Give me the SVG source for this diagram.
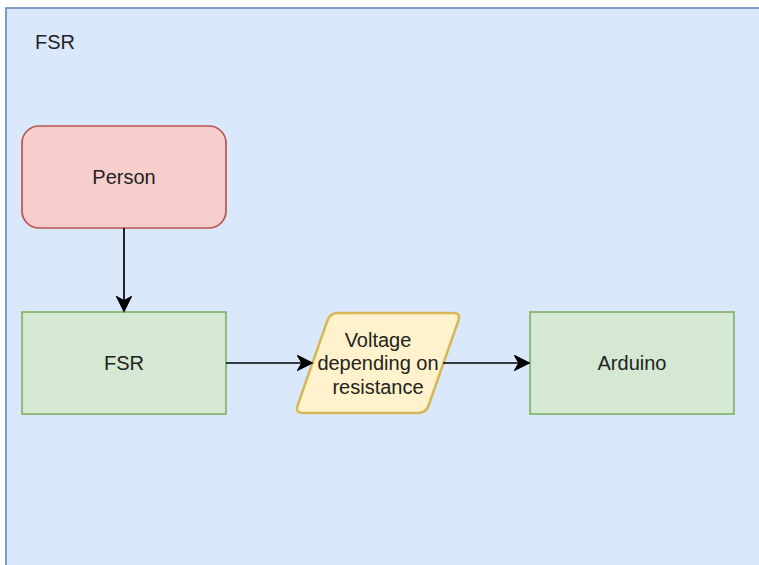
<svg xmlns="http://www.w3.org/2000/svg" width="759" height="565" viewBox="0 0 759 565">
<style>
  text { font-family: "Liberation Sans", Arial, sans-serif; font-size: 20px; fill: #222; text-anchor: middle; }
  .green { fill: #d5e8d4; stroke: #82b366; stroke-width: 1.7; }
  .edge { fill: none; stroke: #000; stroke-width: 1.7; }
</style>
<defs>
  <marker id="arrow" markerUnits="userSpaceOnUse" markerWidth="18" markerHeight="18" refX="15" refY="8" orient="auto">
    <path d="M1,1 L15,8 L1,15 L5,8 Z" fill="#000" stroke="#000" stroke-width="1.5" stroke-linejoin="miter"/>
  </marker>
</defs>
<g id="container">
  <rect x="6" y="8" width="800" height="600" fill="#dae8fc" stroke="#6c8ebf" stroke-width="1.7"/>
  <text x="55" y="49">FSR</text>
</g>
<g id="person">
  <rect x="22" y="126" width="204" height="102" rx="17" ry="17" fill="#f8cecc" stroke="#b85450" stroke-width="1.7"/>
  <text x="124" y="184">Person</text>
</g>
<g id="fsr">
  <rect class="green" x="22" y="312" width="204" height="102"/>
  <text x="124" y="370">FSR</text>
</g>
<g id="voltage">
  <path d="M338,313 L453,313 Q461,313 458.4,320.5 L428.6,405.5 Q426,413 418,413 L303,413 Q295,413 297.6,405.5 L327.4,320.5 Q330,313 338,313 Z" fill="#fff2cc" stroke="#d6b656" stroke-width="2.5"/>
  <text x="378" y="347">Voltage</text>
  <text x="378" y="370">depending on</text>
  <text x="378" y="394">resistance</text>
</g>
<g id="arduino">
  <rect class="green" x="530" y="312" width="204" height="102"/>
  <text x="632" y="370">Arduino</text>
</g>
<g id="connectors">
  <line class="edge" x1="124" y1="228" x2="124" y2="311" marker-end="url(#arrow)"/>
  <line class="edge" x1="226" y1="363" x2="312" y2="363" marker-end="url(#arrow)"/>
  <line class="edge" x1="443" y1="363" x2="529" y2="363" marker-end="url(#arrow)"/>
</g>
</svg>
